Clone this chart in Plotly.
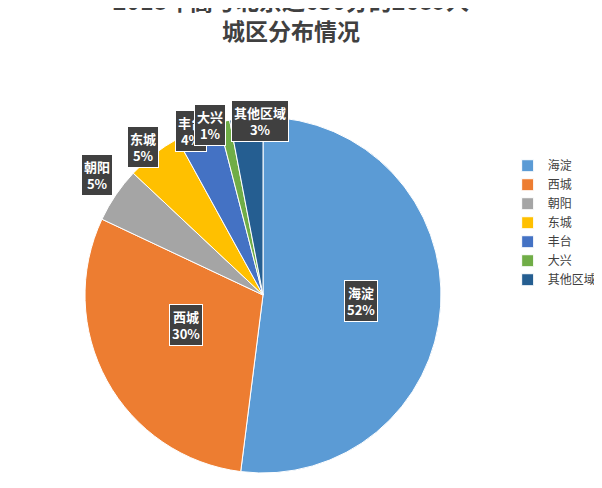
import numpy as np
import plotly.graph_objects as go

labels = ["海淀", "西城", "朝阳", "东城", "丰台", "大兴", "其他区域"]
values = [52, 30, 5, 5, 4, 1, 3]
colors = ["#5B9BD5", "#ED7D31", "#A5A5A5", "#FFC000", "#4472C4", "#70AD47", "#255E91"]
label_r = [0.55, 0.6, 1.2, 1.2, 1.12, 1.1, 1.1]
label_dx = [0, 0, -5, -5, -15, -10, 15]

W, H = 602, 488
cx, cy, R = 255, 287, 178  # pixel centre/radius of the pie

fig = go.Figure(go.Pie(
    labels=labels, values=values, sort=False, direction="clockwise", rotation=0,
    marker=dict(colors=colors, line=dict(color="white", width=1)),
    textinfo="none", hoverinfo="label+percent",
    domain=dict(x=[(cx - R) / W, (cx + R) / W], y=[(H - cy - R) / H, (H - cy + R) / H]),
))

total = sum(values)
cum = 0
for lab, v, rf, dx in zip(labels, values, label_r, label_dx):
    mid = (cum + v / 2) / total * 2 * np.pi
    cum += v
    px_ = cx + rf * R * np.sin(mid) + dx
    py_ = cy - rf * R * np.cos(mid)
    fig.add_annotation(
        x=px_ / W, y=1 - py_ / H, xref="paper", yref="paper", showarrow=False,
        text=f"<b>{lab}<br>{v}%</b>", align="center",
        font=dict(color="white", size=13, family="Noto Sans CJK SC"),
        bgcolor="#404040", bordercolor="white", borderwidth=1, borderpad=2,
    )

fig.update_layout(
    width=W, height=H, margin=dict(l=0, r=0, t=0, b=0),
    paper_bgcolor="white",
    title=dict(text="<b>2018年高考北京过650分的2689人<br>城区分布情况</b>",
               x=0.47, xanchor="center", y=0.995, yanchor="top",
               font=dict(size=23, color="#404040", family="Noto Sans CJK SC")),
    legend=dict(x=0.83, y=0.56, yanchor="middle", xanchor="left",
                font=dict(size=12, color="#404040", family="Noto Sans CJK SC")),
    showlegend=True,
)
fig.write_html("out.html")
